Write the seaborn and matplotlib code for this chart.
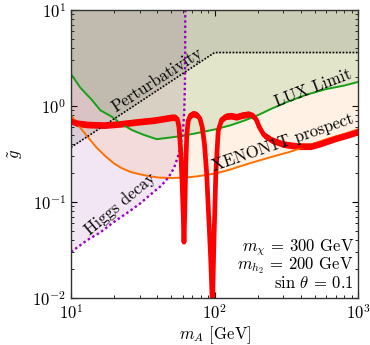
import numpy as np
import matplotlib
matplotlib.use("Agg")
import matplotlib.pyplot as plt
import seaborn as sns

# --- data ---
relic_m = [10, 11, 13, 17, 22, 30, 38, 45, 50, 53, 55, 56.5, 58, 59.5, 60.5, 61.2,
           62.0, 63.0, 64.0, 65.5, 68, 71, 75, 79, 82, 85, 88, 91, 94, 96.6,
           99, 102, 106, 112, 120, 130, 142, 155, 172, 185, 195, 205, 220, 250,
           300, 380, 470, 560, 700, 850, 1000]
relic_g = [0.70, 0.66, 0.64, 0.63, 0.65, 0.685, 0.71, 0.74, 0.76, 0.76, 0.73, 0.6, 0.35, 0.15, 0.07, 0.038,
           0.08, 0.25, 0.5, 0.7, 0.8, 0.83, 0.81, 0.74, 0.6, 0.4, 0.2, 0.07, 0.025, 0.008,
           0.04, 0.2, 0.55, 0.72, 0.78, 0.79, 0.77, 0.8, 0.82, 0.79, 0.72, 0.6, 0.5, 0.44,
           0.4, 0.38, 0.38, 0.41, 0.46, 0.5, 0.54]

lux_m = [10, 11.6, 14, 16, 19.3, 22, 26.6, 32, 39.5, 50, 61, 80, 101, 130, 164, 200,
         251, 320, 430, 600, 800, 1000]
lux_g = [2.15, 1.55, 1.15, 0.9, 0.77, 0.66, 0.56, 0.5, 0.45, 0.47, 0.49, 0.53, 0.57,
         0.63, 0.71, 0.8, 0.94, 1.1, 1.3, 1.5, 1.63, 1.78]

xenon_m = [10, 11.5, 13.3, 15, 17.3, 20, 22.6, 26, 29.6, 35, 41, 50, 62, 75, 86, 100,
           113, 130, 147, 180, 251, 330, 430, 600, 800, 1000]
xenon_g = [0.80, 0.6, 0.46, 0.37, 0.3, 0.25, 0.224, 0.205, 0.195, 0.185, 0.179, 0.177,
           0.179, 0.184, 0.19, 0.197, 0.206, 0.218, 0.232, 0.255, 0.295, 0.33, 0.376,
           0.45, 0.51, 0.57]

higgs_m = [10, 13, 16, 20, 25, 30, 36, 42, 46, 50, 53, 56, 58.5, 60.5, 61.5, 62.1, 62.4, 62.5]
higgs_g = [0.030, 0.040, 0.048, 0.062, 0.078, 0.095, 0.12, 0.145, 0.168, 0.2, 0.24, 0.31,
           0.42, 0.6, 0.9, 1.6, 3.5, 10]

pert_m = [10, 100, 1000]
pert_g = [0.37, 3.6, 3.6]

params = ["$m_\\chi$ = 300 GeV", "$m_{h_2}$ = 200 GeV", "sin $\\theta$ = 0.1"]

sns.set_style("ticks")
plt.rcParams["font.family"] = ["cmr10", "DejaVu Serif"]
plt.rcParams["mathtext.fontset"] = "cm"
plt.rcParams["axes.formatter.use_mathtext"] = True
plt.rcParams["font.size"] = 12
for key in ["text.color", "axes.labelcolor", "xtick.color", "ytick.color"]:
    plt.rcParams[key] = "black"

fig = plt.figure(figsize=(3.7, 3.45), dpi=100)
ax = fig.add_axes([0.192, 0.137, 0.776, 0.834])
ax.set_xscale("log")
ax.set_yscale("log")
ax.set_xlim(10, 1000)
ax.set_ylim(0.01, 10)

top = 10
# shaded excluded regions
ax.fill_between(higgs_m, higgs_g, top, color=(0.5, 0.0, 0.6), alpha=0.1, lw=0)
ax.fill_between(xenon_m, xenon_g, top, color=(1.0, 0.5, 0.0), alpha=0.1, lw=0)
ax.fill_between(lux_m, lux_g, top, color=(0.0, 0.5, 0.0), alpha=0.11, lw=0)
ax.fill_between(pert_m, pert_g, top, color="black", alpha=0.1, lw=0)

sns.lineplot(x=xenon_m, y=xenon_g, ax=ax, color="#ff7000", lw=1.4, sort=False, estimator=None)
sns.lineplot(x=lux_m, y=lux_g, ax=ax, color="#16a016", lw=1.4, sort=False, estimator=None)
sns.lineplot(x=higgs_m, y=higgs_g, ax=ax, color="#9a00c0", lw=1.7, ls=(0, (1, 1.2)),
             sort=False, estimator=None)
sns.lineplot(x=pert_m, y=pert_g, ax=ax, color="black", lw=1.2, ls=(0, (1, 1)),
             sort=False, estimator=None)

# relic band: thick red line plus a thin vertical band
band = 10 ** 0.035
rg = np.array(relic_g)
ax.fill_between(relic_m, rg / band, rg * band, color="red", lw=0)
sns.lineplot(x=relic_m, y=relic_g, ax=ax, color="red", lw=3.4, sort=False, estimator=None)

ax.text(0.30, 0.757, "Perturbativity", transform=ax.transAxes, rotation=33,
        ha="center", va="center")
ax.text(0.843, 0.729, "LUX Limit", transform=ax.transAxes, rotation=21,
        ha="center", va="center")
ax.text(0.739, 0.541, "XENON1T prospect", transform=ax.transAxes, rotation=19,
        ha="center", va="center")
ax.text(0.171, 0.326, "Higgs decay", transform=ax.transAxes, rotation=40,
        ha="center", va="center")
ax.text(0.985, 0.025, "\n".join(params), transform=ax.transAxes,
        ha="right", va="bottom", multialignment="right", linespacing=0.85)

ax.set_xlabel("$m_A$ [GeV]", labelpad=2)
ax.set_ylabel("$\\tilde{g}$")
ax.yaxis.set_label_coords(-0.16, 0.5)
ax.tick_params(which="both", direction="in", top=True, right=True)
ax.tick_params(which="major", length=4)
ax.tick_params(which="minor", length=2)
for s in ax.spines.values():
    s.set_color("#333333")
    s.set_linewidth(1.0)

fig.savefig("out.png", dpi=100)
